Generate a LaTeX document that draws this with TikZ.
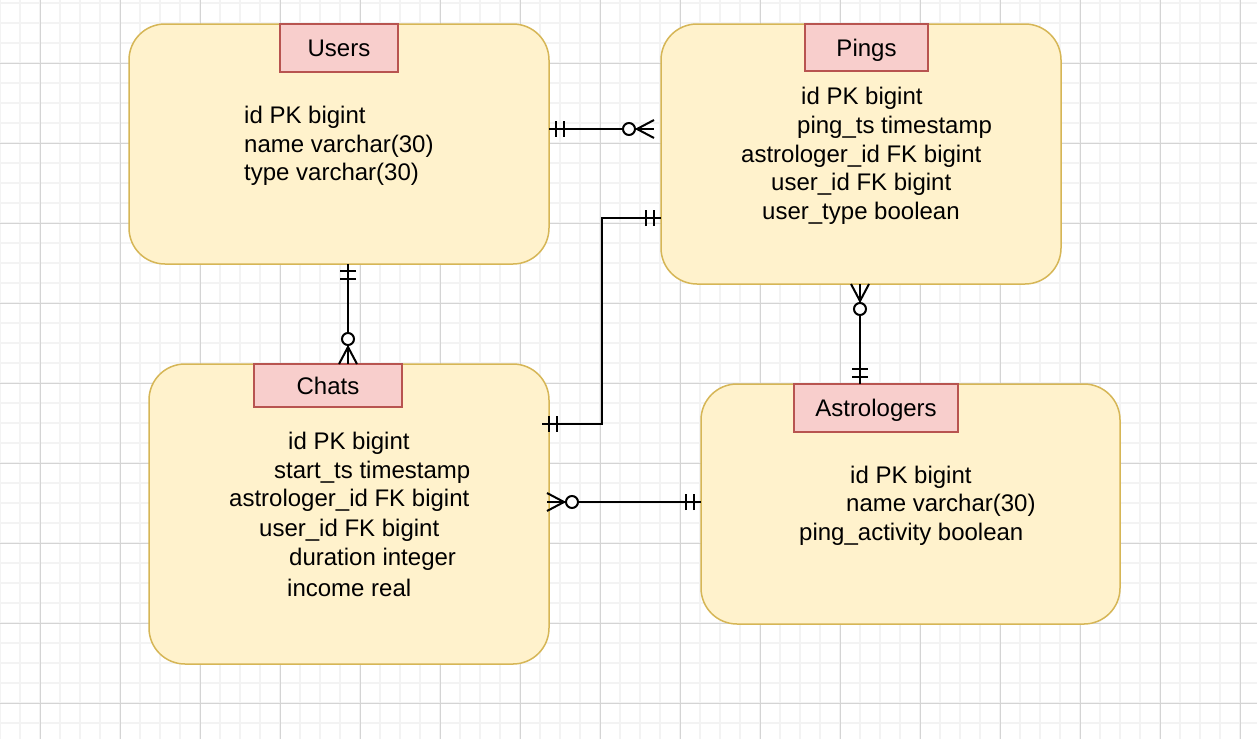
\documentclass[tikz,border=0pt]{standalone}
\usepackage{fontspec}
\setmainfont{Liberation Sans}
\usetikzlibrary{calc}
\definecolor{boxfill}{HTML}{FFF2CC}
\definecolor{boxline}{HTML}{D6B656}
\definecolor{tfill}{HTML}{F8CECC}
\definecolor{tline}{HTML}{B85450}
\definecolor{gminor}{HTML}{F3F3F3}
\definecolor{gmajor}{HTML}{D4D4D4}
\tikzset{
  entity/.style={draw=boxline, fill=boxfill, line width=1.5pt, rounded corners=36pt, inner sep=0pt, outer sep=0pt},
  etitle/.style={draw=tline, fill=tfill, line width=1.5pt, inner sep=0pt, outer sep=0pt, text height=17pt, text depth=0pt, font=\fontsize{24}{29}\selectfont},
  field/.style={anchor=west, inner sep=0pt, font=\fontsize{24}{29}\selectfont},
  conn/.style={line width=2pt, black},
  onemark/.pic={\draw[conn] (7,-8) -- (7,8) (15,-8) -- (15,8);},
  zmany/.pic={\draw[conn] (0,-9) -- (17,0) -- (0,9); \draw[conn, fill=white] (25,0) circle (6);}
}
\begin{document}
\begin{tikzpicture}[x=1pt,y=-1pt]
\useasboundingbox (0,0) rectangle (1257,739);
\fill[white] (0,0) rectangle (1257,739);
% grid
\foreach \gx in {0,20,...,1256} \draw[gminor, line width=1.5pt] (\gx,0) -- (\gx,739);
\foreach \gy in {3,23,...,739} \draw[gminor, line width=1.5pt] (0,\gy) -- (1257,\gy);
\foreach \gx in {40,120,...,1256} \draw[gmajor, line width=1pt] (\gx,0) -- (\gx,739);
\foreach \gy in {63,143,...,739} \draw[gmajor, line width=1pt] (0,\gy) -- (1257,\gy);

% entities
\node[entity, minimum width=420pt, minimum height=240pt] (users) at (339,144) {};
\node[entity, minimum width=400pt, minimum height=260pt] (pings) at (861,154) {};
\node[entity, minimum width=400pt, minimum height=300pt] (chats) at (349,514) {};
\node[entity, minimum width=419pt, minimum height=240pt] (astro) at (910.5,504) {};

\node[etitle, minimum width=118pt, minimum height=48pt] (usersT) at (339,48) {Users};
\node[etitle, minimum width=123pt, minimum height=47pt] (pingsT) at (866.5,47.5) {Pings};
\node[etitle, minimum width=148pt, minimum height=43pt] (chatsT) at (328,385.5) {Chats};
\node[etitle, minimum width=164pt, minimum height=48pt] (astroT) at (876,408) {Astrologers};

% fields
\node[field] (u1) at (244,117) {id PK bigint};
\node[field] (u2) at (244,146) {name varchar(30)};
\node[field] (u3) at (244,174) {type varchar(30)};

\node[field] (p1) at (801,98) {id PK bigint};
\node[field] (p2) at (797,127) {ping\_ts timestamp};
\node[field] (p3) at (741,156) {astrologer\_id FK bigint};
\node[field] (p4) at (771,184) {user\_id FK bigint};
\node[field] (p5) at (762,213) {user\_type boolean};

\node[field] (c1) at (288,443) {id PK bigint};
\node[field] (c2) at (274,472) {start\_ts timestamp};
\node[field] (c3) at (229,500) {astrologer\_id FK bigint};
\node[field] (c4) at (259,530) {user\_id FK bigint};
\node[field] (c5) at (289,559) {duration integer};
\node[field] (c6) at (287,588) {income real};

\node[field] (a1) at (850,477) {id PK bigint};
\node[field] (a2) at (846,505) {name varchar(30)};
\node[field] (a3) at (799,534) {ping\_activity boolean};

% connector end points
\coordinate (eU1) at (users.east |- 0,129);
\coordinate (eP1) at (654,129);
\coordinate (eU2) at (348,264);
\coordinate (eC2) at (348,364);
\coordinate (eC3) at (542,424);
\coordinate (eP3) at (pings.west |- 0,218);
\coordinate (eP4) at (860,284);
\coordinate (eA4) at (860,384);
\coordinate (eC5) at (547,502);
\coordinate (eA5) at (astro.west |- 0,502);

% connectors
\draw[conn] (eU1) -- (eP1);
\pic at (eU1) {onemark};
\pic[rotate=180] at (eP1) {zmany};

\draw[conn] (eU2) -- (eC2);
\pic[rotate=-90] at (eU2) {onemark};
\pic[rotate=90] at (eC2) {zmany};

\draw[conn] (eC3) -| ($(eC3)!0.5!(eP3)$) |- (eP3);
\pic at (eC3) {onemark};
\pic[rotate=180] at (eP3) {onemark};

\draw[conn] (eP4) -- (eA4);
\pic[rotate=-90] at (eP4) {zmany};
\pic[rotate=90] at (eA4) {onemark};

\draw[conn] (eC5) -- (eA5);
\pic at (eC5) {zmany};
\pic[rotate=180] at (eA5) {onemark};
\end{tikzpicture}
\end{document}
